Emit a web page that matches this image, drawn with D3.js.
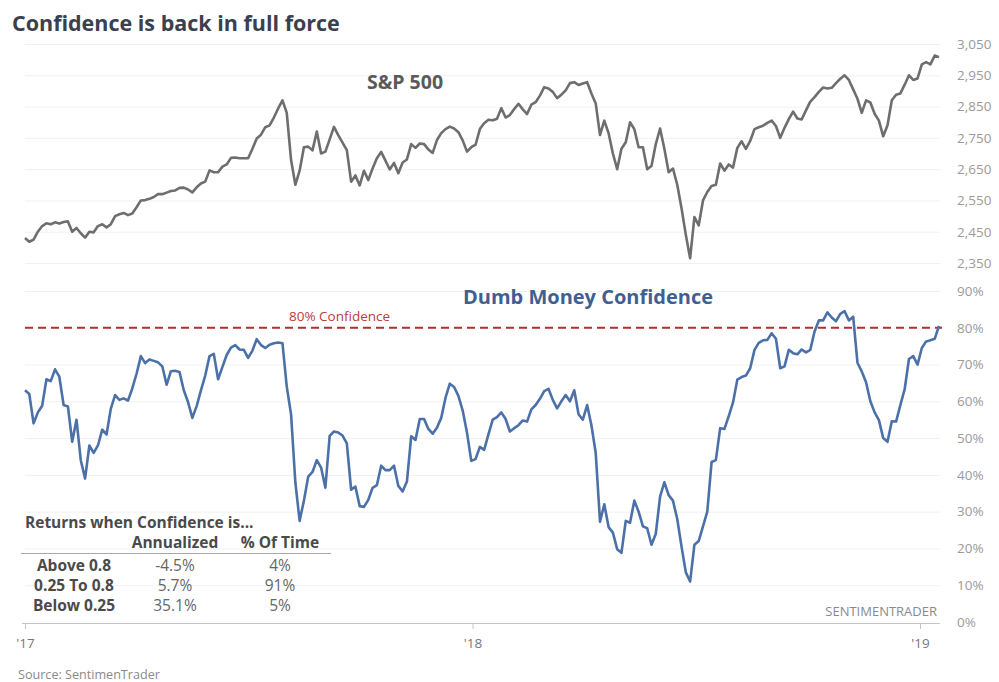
<!DOCTYPE html>
<html>
<head>
<meta charset="utf-8">
<script src="https://cdn.jsdelivr.net/npm/d3@7"></script>
<style>
  body { margin: 0; background: #fff; }
  svg { display: block; font-family: "Open Sans", "Noto Sans", sans-serif; }
</style>
</head>
<body>
<svg id="chart" width="999" height="682"></svg>
<script>
// ---- data ---------------------------------------------------------------
// Observations every 3.5 days starting 2017-01-01
const startDate = Date.UTC(2017, 0, 1);
const stepDays = 3.5;

const spx = [
  2430,2418,2425,2450,2468,2477,2474,2480,2476,2481,
  2483,2450,2462,2445,2431,2450,2448,2468,2474,2464,
  2474,2500,2506,2510,2503,2508,2528,2550,2551,2555,
  2561,2570,2570,2575,2580,2582,2590,2591,2585,2576,
  2592,2604,2610,2646,2640,2640,2658,2665,2686,2687,
  2685,2685,2685,2715,2748,2760,2784,2790,2815,2844,
  2870,2830,2680,2600,2645,2720,2722,2710,2770,2700,
  2706,2745,2785,2759,2735,2711,2610,2630,2598,2645,
  2615,2652,2685,2705,2677,2649,2670,2637,2671,2681,
  2730,2718,2732,2730,2713,2702,2743,2765,2778,2786,
  2780,2768,2742,2706,2720,2728,2778,2797,2808,2806,
  2811,2845,2815,2823,2842,2859,2841,2826,2856,2864,
  2885,2912,2908,2897,2877,2888,2902,2925,2928,2919,
  2924,2928,2892,2860,2759,2805,2765,2700,2650,2715,
  2736,2800,2778,2720,2720,2650,2660,2730,2780,2715,
  2640,2652,2600,2525,2440,2365,2497,2470,2550,2577,
  2596,2600,2668,2645,2665,2655,2718,2739,2715,2740,
  2778,2784,2789,2798,2805,2788,2750,2782,2810,2834,
  2812,2809,2838,2866,2880,2897,2911,2908,2910,2925,
  2939,2950,2935,2905,2875,2830,2870,2863,2827,2805,
  2755,2790,2870,2888,2892,2920,2950,2935,2940,2985,
  2992,2985,3013,3008
];

const dumbMoney = [
  63,62,54,57,58.8,66,65.5,68.7,66.7,59,
  58.6,49,55,44,39,48,46,48,52.3,51,
  58,61.7,60.4,60.8,60.2,63.5,67.5,72.3,70.4,71.4,
  71,70.6,69.5,64.5,68.2,68.3,68,63,59.8,55.5,
  58.7,63,67,72.3,72.9,66,69.3,72.6,74.6,75.3,
  74.1,74,71.8,73.8,76.9,75.3,74.5,75.4,75.8,76,
  75.8,64,56.5,38,27.5,33,39.5,40.8,44,42,
  36.5,50.6,51.8,51.5,50.7,48.6,36,36.8,31.5,31.3,
  33.2,36.5,37.2,42.5,41.3,41.3,42.5,37,35.5,38.2,
  50.5,49.5,55.2,55.2,52.5,51.2,52.8,55.5,61,64.8,
  63.9,61.5,57.5,51.5,43.8,44.3,47.6,46.8,51,55,
  55.7,57,55.2,51.8,52.7,53.5,54.8,54.5,57.8,59,
  60.7,62.8,63.4,60.4,58.1,60,61.7,60,63,56.5,
  55,59,53.5,46,27.3,32,25.8,24.3,19.8,18.8,
  27.5,27,33,30,26,25.5,21,24,34.1,38,
  34.5,33,28,20.5,13.5,11,21,22,26,30,
  43.5,44,52.7,52.5,56,59.7,65.9,66.6,67,69,
  74,75.9,76.6,76.7,78.5,77,69,69.5,74,73.1,
  72.8,74.1,73.3,74,79,82,82,84.2,82.8,81.8,
  83.8,84.5,82,83,70.5,68.1,65.2,60,57,54.9,
  50,49,54.6,54.5,59,63.3,71.5,72.3,70,74.5,
  76.3,76.6,77,80.5
];

const spxTicks = [2350, 2450, 2550, 2650, 2750, 2850, 2950, 3050];
const pctTicks = [0, 10, 20, 30, 40, 50, 60, 70, 80, 90];
const yearTicks = [Date.UTC(2017, 0, 1), Date.UTC(2018, 0, 1), Date.UTC(2019, 0, 1)];
const confidenceLine = 80;

const tableTitle = "Returns when Confidence is...";
const tableColumns = ["", "Annualized", "% Of Time"];
const tableRowLabels = ["Above 0.8", "0.25 To 0.8", "Below 0.25"];
const tableAnnualized = ["-4.5%", "5.7%", "35.1%"];
const tableTimeShare = ["4%", "91%", "5%"];

// ---- scales ---------------------------------------------------------------
const svg = d3.select("#chart");
const dateOf = i => new Date(startDate + i * stepDays * 864e5);

const x = d3.scaleUtc()
  .domain([new Date(yearTicks[0]), new Date(yearTicks[2])])
  .range([25, 920]);
const ySpx = d3.scaleLinear().domain([2350, 3050]).range([263, 44]);
const yPct = d3.scaleLinear().domain([0, 90]).range([622, 291]);

const gridLeft = 25, gridRight = 940;

// ---- gridlines ------------------------------------------------------------
const grid = svg.append("g").attr("stroke", "#f1f1f1").attr("stroke-width", 1);
grid.selectAll("line.s").data(spxTicks).join("line")
  .attr("x1", gridLeft).attr("x2", gridRight)
  .attr("y1", d => ySpx(d) + 0.5).attr("y2", d => ySpx(d) + 0.5);
grid.selectAll("line.p").data(pctTicks.filter(d => d > 0)).join("line")
  .attr("x1", gridLeft).attr("x2", gridRight)
  .attr("y1", d => yPct(d) + 0.5).attr("y2", d => yPct(d) + 0.5);

// ---- right-hand axes ------------------------------------------------------
const fmtComma = d3.format(",");
function styleAxis(g) {
  g.select(".domain").remove();
  g.selectAll(".tick line").remove();
  g.selectAll(".tick text")
    .attr("x", 0)
    .attr("fill", "#9a9a9a")
    .attr("font-size", 13.5)
    .attr("font-family", "\"Open Sans\", sans-serif");
}
svg.append("g").attr("transform", "translate(957,0)")
  .call(d3.axisRight(ySpx).tickValues(spxTicks).tickFormat(fmtComma))
  .call(styleAxis);
svg.append("g").attr("transform", "translate(957,0)")
  .call(d3.axisRight(yPct).tickValues(pctTicks).tickFormat(d => d + "%"))
  .call(styleAxis);

// ---- bottom axis ------------------------------------------------------------
const xAxis = svg.append("g").attr("transform", `translate(0,${yPct(0) + 1})`)
  .call(d3.axisBottom(x)
    .tickValues(yearTicks.map(d => new Date(d)))
    .tickFormat(d => "'" + String(d.getUTCFullYear()).slice(2))
    .tickSize(6).tickPadding(9));
xAxis.select(".domain")
  .attr("d", `M${gridLeft - 3},0.5H${gridRight}`)
  .attr("stroke", "#c4c4c4");
xAxis.selectAll(".tick line").attr("stroke", "#c4c4c4");
xAxis.selectAll(".tick text")
  .attr("fill", "#777").attr("font-size", 13.5)
  .attr("font-family", "\"Open Sans\", sans-serif");

// ---- S&P 500 line -----------------------------------------------------------
const spxLine = d3.line()
  .x((d, i) => x(dateOf(i)))
  .y(d => ySpx(d));
svg.append("path").datum(spx)
  .attr("d", spxLine)
  .attr("fill", "none")
  .attr("stroke", "#6e6e6e")
  .attr("stroke-width", 2.6)
  .attr("stroke-linejoin", "round");

// ---- 80% reference line -------------------------------------------------------
svg.append("line")
  .attr("x1", gridLeft).attr("x2", gridRight + 2)
  .attr("y1", yPct(confidenceLine)).attr("y2", yPct(confidenceLine))
  .attr("stroke", "#b3302f")
  .attr("stroke-width", 2)
  .attr("stroke-dasharray", "8,5");

// ---- Dumb Money Confidence line -----------------------------------------------
const dmLine = d3.line()
  .x((d, i) => x(dateOf(i)))
  .y(d => yPct(d));
svg.append("path").datum(dumbMoney)
  .attr("d", dmLine)
  .attr("fill", "none")
  .attr("stroke", "#4c70a8")
  .attr("stroke-width", 2.6)
  .attr("stroke-linejoin", "round");

// ---- titles and labels --------------------------------------------------------
svg.append("text").attr("x", 12).attr("y", 31)
  .attr("font-size", 21.5).attr("font-weight", 700).attr("fill", "#3a404c")
  .text("Confidence is back in full force");

svg.append("text").attr("x", 405).attr("y", 89).attr("text-anchor", "middle")
  .attr("font-size", 19.5).attr("font-weight", 700).attr("fill", "#5a5a5a")
  .text("S&P 500");

svg.append("text").attr("x", 588).attr("y", 304).attr("text-anchor", "middle")
  .attr("font-size", 20).attr("font-weight", 700).attr("fill", "#3f5f93")
  .text("Dumb Money Confidence");

svg.append("text").attr("x", 289).attr("y", 321)
  .attr("font-size", 13.5).attr("fill", "#b8403c")
  .text("80% Confidence");

svg.append("text").attr("x", 937).attr("y", 616).attr("text-anchor", "end")
  .attr("font-size", 13).attr("fill", "#8a8a8a")
  .text("SENTIMENTRADER");

svg.append("text").attr("x", 18).attr("y", 679)
  .attr("font-size", 12.6).attr("fill", "#8a8a8a")
  .text("Source: SentimenTrader");

// ---- returns table ------------------------------------------------------------
const table = svg.append("g").attr("fill", "#4a4a4a").attr("font-size", 15.5);
table.append("text").attr("x", 25).attr("y", 528)
  .attr("font-weight", 700).text(tableTitle);

const colX = [74, 175, 280];
table.selectAll("text.head").data(tableColumns).join("text")
  .attr("class", "head")
  .attr("x", (d, i) => colX[i]).attr("y", 548)
  .attr("text-anchor", "middle").attr("font-weight", 700)
  .text(d => d);

table.append("line")
  .attr("x1", 21).attr("x2", 331).attr("y1", 553.5).attr("y2", 553.5)
  .attr("stroke", "#a8a8a8").attr("stroke-width", 1);

const rowY = [571, 591, 611];
tableRowLabels.forEach((label, r) => {
  const cells = [label, tableAnnualized[r], tableTimeShare[r]];
  table.selectAll(null).data(cells).join("text")
    .attr("x", (d, i) => colX[i]).attr("y", rowY[r])
    .attr("text-anchor", "middle")
    .attr("font-weight", (d, i) => i === 0 ? 700 : 400)
    .attr("fill", (d, i) => i === 0 ? "#4a4a4a" : "#666")
    .text(d => d);
});
</script>
</body>
</html>
